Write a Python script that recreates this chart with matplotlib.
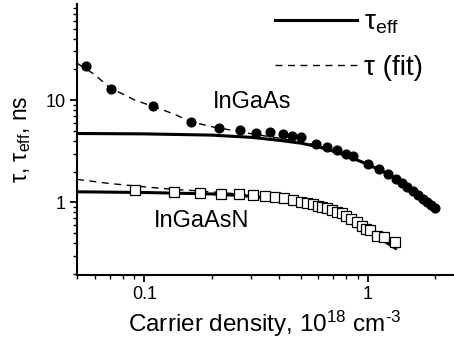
import matplotlib
matplotlib.use('Agg')
import matplotlib.pyplot as plt
from matplotlib.ticker import LogLocator, NullFormatter, FixedLocator, FixedFormatter

plt.rcParams['font.family'] = ['Liberation Sans', 'DejaVu Sans']
plt.rcParams['mathtext.fontset'] = 'custom'
plt.rcParams['mathtext.rm'] = 'Liberation Sans'
plt.rcParams['mathtext.it'] = 'Liberation Sans:italic'

# InGaAs: measured points (filled circles)
n_gaas = [0.0547, 0.0712, 0.1089, 0.1625, 0.216, 0.267, 0.3167, 0.3646, 0.4153,
          0.4554, 0.5012, 0.5864, 0.6592, 0.7276, 0.798, 0.8609, 1.0, 1.1195,
          1.2327, 1.329, 1.4237, 1.503, 1.587, 1.677, 1.759, 1.84, 1.923, 2.004]
tau_gaas = [21.8, 12.8, 8.80, 6.10, 5.33, 5.09, 4.73, 4.84, 4.62, 4.48, 4.38,
            3.69, 3.47, 3.27, 2.98, 2.82, 2.40, 2.10, 1.89, 1.70, 1.54, 1.42,
            1.29, 1.18, 1.085, 1.01, 0.941, 0.872]

# InGaAsN: measured points (open squares)
n_gaasn = [0.0912, 0.1351, 0.1777, 0.2204, 0.2644, 0.3071, 0.3463, 0.3838, 0.4222,
           0.4603, 0.4996, 0.5347, 0.5685, 0.5984, 0.6264, 0.6565, 0.6891, 0.7276,
           0.7636, 0.8013, 0.8433, 0.8933, 0.9374, 0.9837, 1.025, 1.097, 1.184, 1.319]
tau_gaasn = [1.32, 1.25, 1.24, 1.22, 1.20, 1.18, 1.15, 1.12, 1.095, 1.053, 1.014,
             0.991, 0.955, 0.926, 0.899, 0.874, 0.841, 0.804, 0.781, 0.735, 0.687,
             0.638, 0.591, 0.548, 0.536, 0.468, 0.454, 0.409]

# curves
n_eff_gaas = [0.05, 0.1, 0.2, 0.3, 0.4, 0.5, 0.6, 0.7, 0.8, 1.0, 1.2, 1.4, 1.6, 1.8, 2.0]
eff_gaas = [4.72, 4.68, 4.55, 4.33, 4.05, 3.8, 3.5, 3.17, 2.87, 2.35, 1.95, 1.6, 1.32, 1.08, 0.875]

n_fit_gaas = [0.05, 0.06, 0.07, 0.08, 0.09, 0.1, 0.12, 0.14, 0.16, 0.2, 0.25, 0.3,
              0.4, 0.5, 0.6, 0.7, 0.8, 1.0, 1.2, 1.5, 1.8, 2.0]
fit_gaas = [23.0, 17.8, 13.2, 11.5, 10.1, 9.3, 8.1, 7.1, 6.2, 5.5, 5.05, 4.7,
            4.25, 3.92, 3.6, 3.25, 2.92, 2.38, 1.96, 1.45, 1.1, 0.89]

n_eff_gaasn = [0.05, 0.1, 0.2, 0.3, 0.42, 0.5, 0.59, 0.7, 0.83, 1.0, 1.09, 1.2, 1.33]
eff_gaasn = [1.27, 1.25, 1.21, 1.15, 1.06, 0.98, 0.86, 0.77, 0.65, 0.52, 0.46, 0.41, 0.355]

n_fit_gaasn = [0.05, 0.07, 0.1, 0.135, 0.18, 0.25, 0.3, 0.4, 0.5, 0.6, 0.7, 0.8,
               0.9, 1.0, 1.1, 1.2, 1.32]
fit_gaasn = [1.68, 1.53, 1.42, 1.34, 1.29, 1.22, 1.18, 1.1, 1.01, 0.925, 0.83, 0.74,
             0.64, 0.56, 0.5, 0.45, 0.41]

fig = plt.figure(figsize=(4.54, 3.5), dpi=100)
ax = fig.add_axes([0.1696, 0.2143, 0.828, 0.774])

ax.plot(n_eff_gaas, eff_gaas, color='black', lw=2.2, label=r'τ$_{\rm eff}$')
ax.plot(n_fit_gaas, fit_gaas, color='black', lw=1.0, ls=(0, (5, 4)), label='τ (fit)')
ax.plot(n_eff_gaasn, eff_gaasn, color='black', lw=2.2)
ax.plot(n_fit_gaasn, fit_gaasn, color='black', lw=1.0, ls=(0, (5, 4)))
ax.plot(n_gaas, tau_gaas, 'o', color='black', ms=6.3, zorder=3)
ax.plot(n_gaasn, tau_gaasn, 's', mfc='white', mec='black', mew=0.9, ms=6.5, zorder=3)

ax.set_xscale('log')
ax.set_yscale('log')
ax.set_xlim(0.05, 2.4)
ax.set_ylim(0.195, 87)

ax.xaxis.set_major_locator(FixedLocator([0.1, 1]))
ax.xaxis.set_major_formatter(FixedFormatter(['0.1', '1']))
ax.xaxis.set_minor_locator(LogLocator(base=10, subs=range(2, 10)))
ax.xaxis.set_minor_formatter(NullFormatter())
ax.yaxis.set_major_locator(FixedLocator([1, 10]))
ax.yaxis.set_major_formatter(FixedFormatter(['1', '10']))
ax.yaxis.set_minor_locator(LogLocator(base=10, subs=range(2, 10)))
ax.yaxis.set_minor_formatter(NullFormatter())

for s in ['top', 'right']:
    ax.spines[s].set_visible(False)
for s in ['left', 'bottom']:
    ax.spines[s].set_linewidth(1.5)
ax.tick_params(which='major', direction='out', length=5, width=1.3, labelsize=13, pad=3)
ax.tick_params(which='minor', direction='out', length=3, width=1.0)

ax.set_xlabel(r'Carrier density, 10$^{18}$ cm$^{\text{-}3}$', fontsize=17.5, labelpad=4)
ax.set_ylabel(r'τ, τ$_{\rm eff}$, ns', fontsize=16.5, labelpad=9)

ax.text(0.465, 0.638, 'InGaAs', transform=ax.transAxes, fontsize=17,
        ha='center', va='center')
ax.text(0.332, 0.199, 'InGaAsN', transform=ax.transAxes, fontsize=17,
        ha='center', va='center')

ax.legend(loc='upper left', bbox_to_anchor=(0.475, 1.05), frameon=False, fontsize=20,
          handlelength=2.95, handletextpad=0.25, labelspacing=0.65, borderpad=0.2)

fig.savefig('out.png', dpi=100)
